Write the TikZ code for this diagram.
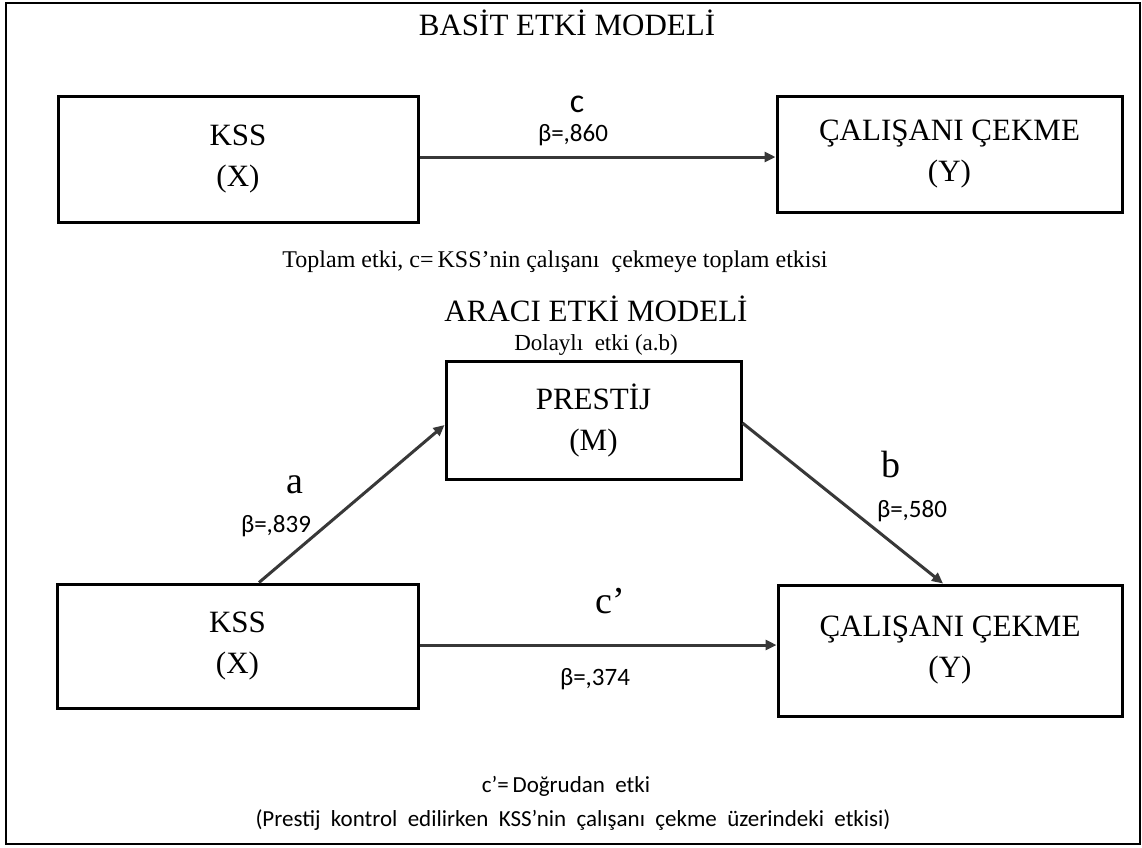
\documentclass[tikz,border=0pt]{standalone}
\usepackage{fontspec}
\setmainfont{Liberation Serif}
\newfontfamily\labelsans{Carlito}
\usetikzlibrary{arrows.meta,calc}

\tikzset{
  varbox/.style={draw=black, line width=3pt, rectangle, align=center, inner sep=0pt,
    font=\fontsize{31}{41}\selectfont},
  pathline/.style={draw=black!78, line width=3pt,
    -{Triangle[length=11pt,width=10pt]}},
  titletext/.style={font=\fontsize{31}{34}\selectfont, inner sep=0pt},
  smalltext/.style={font=\fontsize{23}{26}\selectfont, inner sep=0pt},
  pathletter/.style={font=\fontsize{38}{40}\selectfont, inner sep=0pt, anchor=base},
  betatext/.style={font=\labelsans\fontsize{25}{28}\selectfont, inner sep=0pt, anchor=base},
  notetext/.style={font=\labelsans\fontsize{23}{35}\selectfont, inner sep=0pt, align=center}
}

\begin{document}
\begin{tikzpicture}[x=1pt, y=-1pt]
\useasboundingbox (0,0) rectangle (1142,847);
\fill[white] (0,0) rectangle (1142,847);

% frame
\node[draw=black, line width=2.5pt, minimum width=1134pt, minimum height=841pt, inner sep=0pt]
  (frame) at (573,423.5) {};

% ---------- simple effect model ----------
\node[titletext] (t1) at (567,23) {BASİT ETKİ MODELİ};

\node[varbox, minimum width=360pt, minimum height=126pt] (x1) at (238,159) {KSS\\(X)};
\node[varbox, minimum width=345pt, minimum height=116pt] (y1) at (949.5,154) {ÇALIŞANI ÇEKME\\(Y)};

\draw[pathline] (x1.east |- 0,157) -- (y1.west |- 0,157);
\node[font=\labelsans\fontsize{34}{36}\selectfont, inner sep=0pt, anchor=base] (lc) at (577,112) {c};
\node[betatext] (bc) at (573,141) {β=,860};

\node[smalltext, font=\fontsize{24}{26}\selectfont, anchor=base] (tot) at (555,267)
  {Toplam etki, c=\,KSS’nin çalışanı\ \ çekmeye\ toplam\ etkisi};

% ---------- mediation model ----------
\node[titletext] (t2) at (596,309) {ARACI ETKİ MODELİ};
\node[smalltext, anchor=base] (ind) at (596,350) {Dolaylı\ \ etki (a.b)};

\node[varbox, minimum width=295pt, minimum height=118pt] (m) at (593.5,420) {PRESTİJ\\(M)};
\node[varbox, minimum width=361pt, minimum height=124pt] (x2) at (237.5,646) {KSS\\(X)};
\node[varbox, minimum width=344pt, minimum height=131pt] (y2) at (950,650.5) {ÇALIŞANI ÇEKME\\(Y)};

\coordinate (aS) at (x2.north -| 259,0);
\coordinate (aE) at (m.west |- 0,425);
\coordinate (bS) at (m.east |- 0,423);
\coordinate (bE) at (y2.north -| 943,0);

\draw[pathline] (aS) -- (aE);
\draw[pathline] (bS) -- (bE);
\draw[pathline] (x2.east |- 0,645) -- (y2.west |- 0,645);

\node[pathletter] (la) at (295,493) {a};
\node[betatext] (ba) at (276,532) {β=,839};
\node[pathletter] (lb) at (891,477) {b};
\node[betatext] (bb) at (912,517) {β=,580};
\node[pathletter] (lcp) at (610,613) {c’};
\node[betatext] (bcp) at (595,685) {β=,374};

\node[notetext, anchor=base] (n1) at (566,792) {c’=\,Doğrudan\ \ etki};
\node[notetext, anchor=base] (n2) at (573,826)
  {(Prestij\ \ kontrol\ \ edilirken\ \ KSS’nin\ \ çalışanı\ \ çekme\ \ üzerindeki\ \ etkisi)};
\end{tikzpicture}
\end{document}
